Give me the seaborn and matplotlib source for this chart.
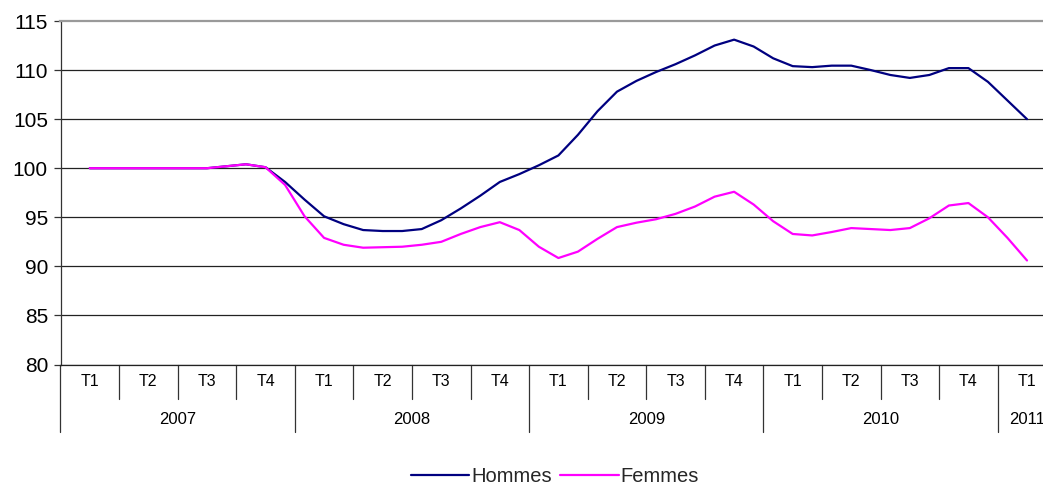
import numpy as np
import pandas as pd
import matplotlib
matplotlib.use("Agg")
import matplotlib.pyplot as plt
import matplotlib.transforms as mtransforms
import seaborn as sns

# ---- data (monthly index, Jan 2007 .. Jan 2011) ----
hommes = [100.0, 100.0, 100.0, 100.0, 100.0, 100.0, 100.0, 100.2, 100.4, 100.1,
          98.6, 96.8, 95.1, 94.3, 93.7, 93.6, 93.6, 93.8, 94.7, 95.9,
          97.2, 98.6, 99.4, 100.3, 101.3, 103.4, 105.8, 107.8, 108.9, 109.8,
          110.6, 111.5, 112.5, 113.1, 112.4, 111.2, 110.4, 110.3, 110.45, 110.45,
          110.0, 109.5, 109.2, 109.5, 110.2, 110.2, 108.8, 106.9, 105.0]
femmes = [100.0, 100.0, 100.0, 100.0, 100.0, 100.0, 100.0, 100.2, 100.4, 100.1,
          98.3, 95.1, 92.9, 92.2, 91.9, 91.95, 92.0, 92.2, 92.5, 93.3,
          94.0, 94.5, 93.7, 92.0, 90.85, 91.5, 92.8, 94.0, 94.45, 94.8,
          95.35, 96.1, 97.1, 97.6, 96.3, 94.6, 93.3, 93.15, 93.5, 93.9,
          93.8, 93.7, 93.9, 94.9, 96.2, 96.45, 95.0, 92.9, 90.6]
quarter_labels = ["T1", "T2", "T3", "T4"] * 4 + ["T1"]
year_labels = ["2007", "2008", "2009", "2010", "2011"]
series_names = ["Hommes", "Femmes"]
y_ticks = [80, 85, 90, 95, 100, 105, 110, 115]

colors = {"Hommes": "#000080", "Femmes": "#FF00FF"}

n = len(hommes)
df = pd.DataFrame({
    "pos": np.concatenate([np.arange(n) / 3.0, np.arange(n) / 3.0]),
    "valeur": np.concatenate([hommes, femmes]),
    "Sexe": [series_names[0]] * n + [series_names[1]] * n,
})

sns.set_theme(style="white")
plt.rcParams["font.family"] = ["Liberation Sans", "DejaVu Sans"]

W, H = 1043, 487
fig = plt.figure(figsize=(W / 100, H / 100), dpi=100)
left_px, right_px, top_px, bot_px = 60.5, 1043, 21, 364.5
ax = fig.add_axes([left_px / W, 1 - bot_px / H, (right_px - left_px) / W, (bot_px - top_px) / H])

sns.lineplot(data=df, x="pos", y="valeur", hue="Sexe", palette=colors,
             linewidth=1.6, ax=ax, legend=False, sort=False)

qw = 58.56
ax.set_xlim(-0.5, 16 + (right_px - 1027) / qw)
ax.set_ylim(80, 115)
ax.set_yticks(y_ticks)
ax.set_yticklabels([str(v) for v in y_ticks], fontsize=15, color="black")
ax.tick_params(axis="y", length=5, width=0.9, color="#333333", pad=4, left=True)
ax.set_xticks([])
ax.set_xlabel("")
ax.set_ylabel("")
for v in y_ticks[:-1]:
    ax.axhline(v, color="#222222", linewidth=0.9, zorder=0)

for s in ["right"]:
    ax.spines[s].set_visible(False)
ax.spines["top"].set_color("#9a9a9a")
ax.spines["top"].set_linewidth(1.6)
ax.spines["bottom"].set_color("#222222")
ax.spines["bottom"].set_linewidth(0.9)
ax.spines["left"].set_color("#333333")
ax.spines["left"].set_linewidth(0.9)

# ---- two-level category axis ----
trans = mtransforms.blended_transform_factory(ax.transData, ax.transAxes)
ah = bot_px - top_px
y_short = -(399 - bot_px) / ah
y_long = -(432 - bot_px) / ah
# left spine extension
ax.plot([-0.5, -0.5], [0, y_long], transform=trans, color="#333333", lw=0.9, clip_on=False)
for q in range(16):
    xb = q + 0.5
    yl = y_long if (q % 4 == 3) else y_short
    ax.plot([xb, xb], [0, yl], transform=trans, color="#333333", lw=0.9, clip_on=False)
for q, lab in enumerate(quarter_labels):
    ax.text(q, -(381 - bot_px) / ah, lab, transform=trans, ha="center", va="center",
            fontsize=11.5, color="black", clip_on=False)
year_centers = [1.5, 5.5, 9.5, 13.5, 16]
for xc, lab in zip(year_centers, year_labels):
    ax.text(xc, -(419 - bot_px) / ah, lab, transform=trans, ha="center", va="center",
            fontsize=12, color="black", clip_on=False)

# ---- legend ----
from matplotlib.lines import Line2D
handles = [Line2D([0], [0], color=colors[s], lw=1.6) for s in series_names]
fig.legend(handles, series_names, loc="center", bbox_to_anchor=(555 / W, 1 - 477 / H),
           ncol=2, frameon=False, fontsize=14.5, handlelength=2.9, handletextpad=0.1,
           columnspacing=0.4)

fig.savefig("out.png", dpi=100)
